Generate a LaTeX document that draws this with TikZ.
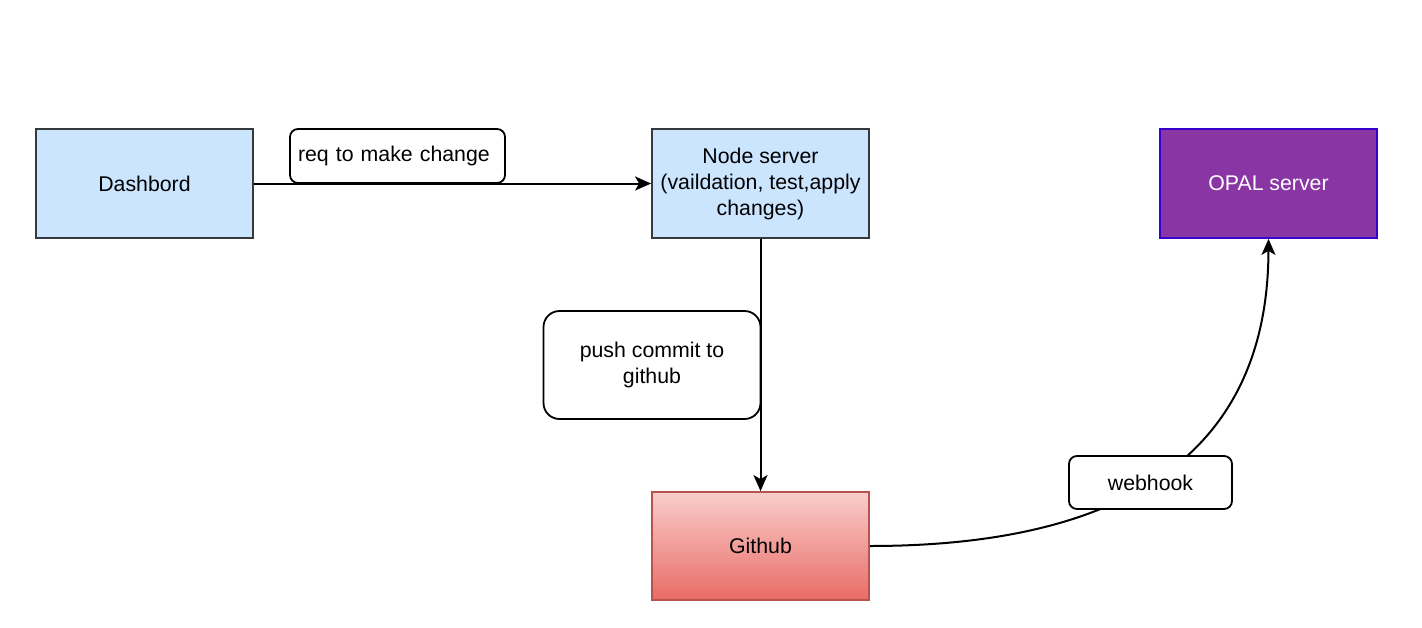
\documentclass[tikz,border=0pt]{standalone}
\usepackage{fontspec}
\setmainfont{Liberation Sans}
\usetikzlibrary{arrows.meta}
\definecolor{bluefill}{HTML}{CCE5FF}
\definecolor{bluedraw}{HTML}{36393D}
\definecolor{opalfill}{HTML}{8935A3}
\definecolor{opaldraw}{HTML}{3700CC}
\definecolor{ghtop}{HTML}{F8CECC}
\definecolor{ghbot}{HTML}{EA6B66}
\definecolor{ghdraw}{HTML}{B85450}
\tikzset{
  box/.style={rectangle, minimum width=217pt, minimum height=109pt, line width=1.8pt, inner sep=0pt, align=center, font=\fontsize{21.3}{26}\selectfont},
  bluebox/.style={box, fill=bluefill, draw=bluedraw},
  lbl/.style={rectangle, rounded corners=8pt, draw=black, fill=white, line width=1.8pt, font=\fontsize{21.3}{26}\selectfont, inner sep=0pt},
  conn/.style={line width=2pt, -{Stealth[length=16pt,width=14pt,inset=4pt]}}
}
\begin{document}
\begin{tikzpicture}[x=1pt,y=-1pt]
\useasboundingbox (0,0) rectangle (1422,627);
\node[bluebox] (dash) at (144.5,183.5) {Dashbord};
\node[bluebox] (ns) at (760.5,183.5) {Node server\\(vaildation, test,apply\\changes)};
\node[box, fill=opalfill, draw=opaldraw, text=white] (opal) at (1268.5,183.5) {OPAL server};
\node[box, minimum height=108pt, top color=ghtop, bottom color=ghbot, draw=ghdraw] (gh) at (760.5,546) {Github};
\draw[conn] (dash.east) -- (ns.west);
\draw[conn] (ns.south) -- (gh.north);
\draw[conn] (gh.east) .. controls (1100,546) and (1268,470) .. (opal.south);
\node[lbl, minimum height=54pt, text width=199pt, inner xsep=8pt, align=left] (req) at (397.5,156) {req to make change\vphantom{g}};
\node[lbl, rounded corners=16pt, minimum width=217pt, minimum height=108pt, align=center] (push) at (652,365) {push commit to\\github};
\node[lbl, minimum width=163pt, minimum height=53pt] (wh) at (1150.5,482.5) {webhook};
\end{tikzpicture}
\end{document}
